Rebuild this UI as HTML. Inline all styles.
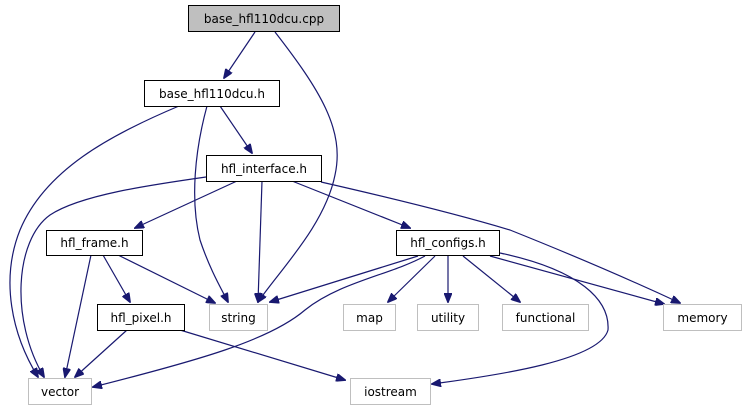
<!DOCTYPE html>
<html><head><meta charset="utf-8"><style>
html,body{margin:0;padding:0;background:#fff;}
svg{display:block;}
text{font-family:"DejaVu Sans","Liberation Sans",sans-serif;font-size:12px;fill:#000;}
</style></head><body>
<svg width="747" height="411" viewBox="0 0 747 411" xmlns="http://www.w3.org/2000/svg">
<defs>
<marker id="a" markerWidth="10" markerHeight="8" refX="9" refY="4" orient="auto" markerUnits="userSpaceOnUse">
<path d="M0,0 L10,4 L0,8 Z" fill="#191970" stroke="#191970"/>
</marker>
</defs>
<g fill="none" stroke="#191970" stroke-width="1.2" marker-end="url(#a)">
<path d="M255,32 L224,78"/>
<path d="M275,32 C320,90 345,130 335,175 C325,225 280,270 258,302"/>
<path d="M179,106 C110,135 45,170 20,230 C0,280 12,335 38,377"/>
<path d="M207,106 C195,150 190,200 200,240 C210,270 222,290 228,302"/>
<path d="M220,106 L252,153"/>
<path d="M206,177 C150,185 80,195 50,215 C15,240 10,320 44,377"/>
<path d="M237,181 L135,228"/>
<path d="M262,181 L258,302"/>
<path d="M292,181 L410,228"/>
<path d="M321,182 C400,200 460,215 510,230 C560,250 620,275 680,303"/>
<path d="M91,255 L65,377"/>
<path d="M103,255 L130,302"/>
<path d="M118,255 L215,303"/>
<path d="M127,330 L75,377"/>
<path d="M180,330 L345,380"/>
<path d="M418,256 L270,302"/>
<path d="M425,256 C390,275 340,282 305,310 C270,340 200,360 93,387"/>
<path d="M435,256 L388,302"/>
<path d="M448,256 L448,302"/>
<path d="M463,256 L520,302"/>
<path d="M490,256 L664,304"/>
<path d="M500,253 C580,270 610,300 608,330 C600,360 500,375 432,384"/>
</g>
<g stroke-width="1">
<rect x="188.5" y="5.5" width="151" height="26" fill="#bfbfbf" stroke="#000"/>
<rect x="144.5" y="80.5" width="135" height="26" fill="#fff" stroke="#000"/>
<rect x="206.5" y="155.5" width="115" height="26" fill="#fff" stroke="#000"/>
<rect x="46.5" y="230.5" width="96" height="25" fill="#fff" stroke="#000"/>
<rect x="396.5" y="230.5" width="103" height="25" fill="#fff" stroke="#000"/>
<rect x="97.5" y="304.5" width="87" height="26" fill="#fff" stroke="#000"/>
<rect x="209.5" y="304.5" width="58" height="26" fill="#fff" stroke="#bfbfbf"/>
<rect x="343.5" y="304.5" width="52" height="26" fill="#fff" stroke="#bfbfbf"/>
<rect x="417.5" y="304.5" width="61" height="26" fill="#fff" stroke="#bfbfbf"/>
<rect x="502.5" y="304.5" width="86" height="26" fill="#fff" stroke="#bfbfbf"/>
<rect x="663.5" y="304.5" width="78" height="26" fill="#fff" stroke="#bfbfbf"/>
<rect x="28.5" y="378.5" width="63" height="26" fill="#fff" stroke="#bfbfbf"/>
<rect x="350.5" y="378.5" width="80" height="26" fill="#fff" stroke="#bfbfbf"/>
</g>
<g text-anchor="middle">
<text x="264" y="23">base_hfl110dcu.cpp</text>
<text x="212" y="98">base_hfl110dcu.h</text>
<text x="264" y="173">hfl_interface.h</text>
<text x="94.5" y="247">hfl_frame.h</text>
<text x="448" y="247">hfl_configs.h</text>
<text x="141" y="322">hfl_pixel.h</text>
<text x="238.5" y="322">string</text>
<text x="369.5" y="322">map</text>
<text x="448" y="322">utility</text>
<text x="545.5" y="322">functional</text>
<text x="702.5" y="322">memory</text>
<text x="60" y="396">vector</text>
<text x="390.5" y="396">iostream</text>
</g>
</svg>
</body></html>
